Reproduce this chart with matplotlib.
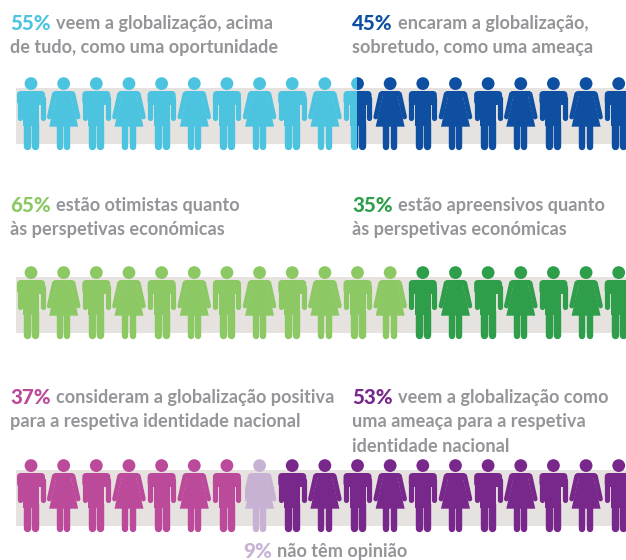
import matplotlib
matplotlib.use('Agg')
import matplotlib.pyplot as plt
from matplotlib.patches import Rectangle, Circle, Polygon, FancyBboxPatch
from matplotlib.lines import Line2D

plt.rcParams['font.family'] = ['Lato', 'DejaVu Sans']

# icons per colour, each row holds 19 icons
row_counts = [[10.45, 8.55], [12, 7], [7, 1, 11]]
row_colors = [['#4cc4e0', '#0e4fa1'], ['#8cc863', '#2f9e4b'], ['#bb4a9b', '#c8b2d4', '#78288a']]

texts = [
    ('55%', '#4cc4e0', 'veem a globalização, acima', 10, 24),
    (None, None, 'de tudo, como uma oportunidade', 10, 48),
    ('45%', '#0e4fa1', 'encaram a globalização,', 352, 24),
    (None, None, 'sobretudo, como uma ameaça', 352, 48),
    ('65%', '#8cc863', 'estão otimistas quanto', 10, 205),
    (None, None, 'às perspetivas económicas', 10, 229),
    ('35%', '#2f9e4b', 'estão apreensivos quanto', 352, 205),
    (None, None, 'às perspetivas económicas', 352, 229),
    ('37%', '#bb4a9b', 'consideram a globalização positiva', 10, 398),
    (None, None, 'para a respetiva identidade nacional', 10, 422),
    ('53%', '#78288a', 'veem a globalização como', 352, 398),
    (None, None, 'uma ameaça para a respetiva', 352, 422),
    (None, None, 'identidade nacional', 352, 446),
    ('9%', '#c8b2d4', 'não têm opinião', 243, 552),
]

bar_left = 16
pitch = 32.65
row_top = [88, 277, 470]
bar_h = 56
grey = '#e6e2df'
text_grey = '#939598'
fsize = 13.1
pct_size = 14.8


def draw_icon(ax, cx, top, kind, color, clip):
    # top = top edge of grey bar, the figure sticks out above and below it
    parts = [Circle((cx, top - 4.4), 6.4, fc=color, ec='none')]
    lines = []
    if kind == 0:
        parts.append(FancyBboxPatch((cx - 14, top + 3), 28, 14, boxstyle='round,pad=0,rounding_size=4', fc=color, ec='none'))
        parts.append(Rectangle((cx - 8, top + 8), 16, 30, fc=color, ec='none'))
        lines.append(([cx - 11.5, cx - 11.5], [top + 10, top + 29.5], 5.2))
        lines.append(([cx + 11.5, cx + 11.5], [top + 10, top + 29.5], 5.2))
        lines.append(([cx - 4, cx - 4], [top + 34, top + 58.4], 7.4))
        lines.append(([cx + 4, cx + 4], [top + 34, top + 58.4], 7.4))
    else:
        parts.append(Polygon([[cx - 6.3, top + 3], [cx + 6.3, top + 3], [cx + 14.5, top + 38.7], [cx - 14.5, top + 38.7]], fc=color, ec='none'))
        parts.append(FancyBboxPatch((cx - 10.5, top + 3), 21, 5, boxstyle='round,pad=0,rounding_size=2.5', fc=color, ec='none'))
        lines.append(([cx - 9.3, cx - 14.4], [top + 6, top + 29], 4.8))
        lines.append(([cx + 9.3, cx + 14.4], [top + 6, top + 29], 4.8))
        lines.append(([cx - 3.7, cx - 3.7], [top + 36, top + 58.8], 6.4))
        lines.append(([cx + 3.7, cx + 3.7], [top + 36, top + 58.8], 6.4))
    for p in parts:
        ax.add_patch(p)
        p.set_clip_path(clip)
    for xs, ys, w in lines:
        ln = Line2D(xs, ys, color=color, lw=w * 0.72, solid_capstyle='round')
        ax.add_line(ln)
        ln.set_clip_path(clip)


fig = plt.figure(figsize=(6.26, 5.6), dpi=100)
ax = fig.add_axes([0, 0, 1, 1])
ax.set_xlim(0, 626)
ax.set_ylim(560, 0)
ax.axis('off')

for r in range(len(row_counts)):
    top = row_top[r]
    ax.add_patch(Rectangle((bar_left, top), 626 - bar_left, bar_h, fc=grey, ec='none'))
    start = 0
    for count, color in zip(row_counts[r], row_colors[r]):
        clip = Rectangle((bar_left + start * pitch, top - 20), count * pitch, 100, transform=ax.transData)
        for i in range(19):
            if i + 1 > start and i < start + count:
                draw_icon(ax, bar_left + (i + 0.46) * pitch, top, i % 2, color, clip)
        start += count

fig.canvas.draw()
rend = fig.canvas.get_renderer()
for pct, col, body, x, y in texts:
    if pct:
        t = ax.text(x, y, pct, color=col, fontsize=pct_size, fontweight='black', va='center')
        ext = t.get_window_extent(rend)
        x = ext.x1 + 5
    ax.text(x, y, body, color=text_grey, fontsize=fsize, fontweight='bold', va='center')

fig.savefig('out.png', dpi=100)
